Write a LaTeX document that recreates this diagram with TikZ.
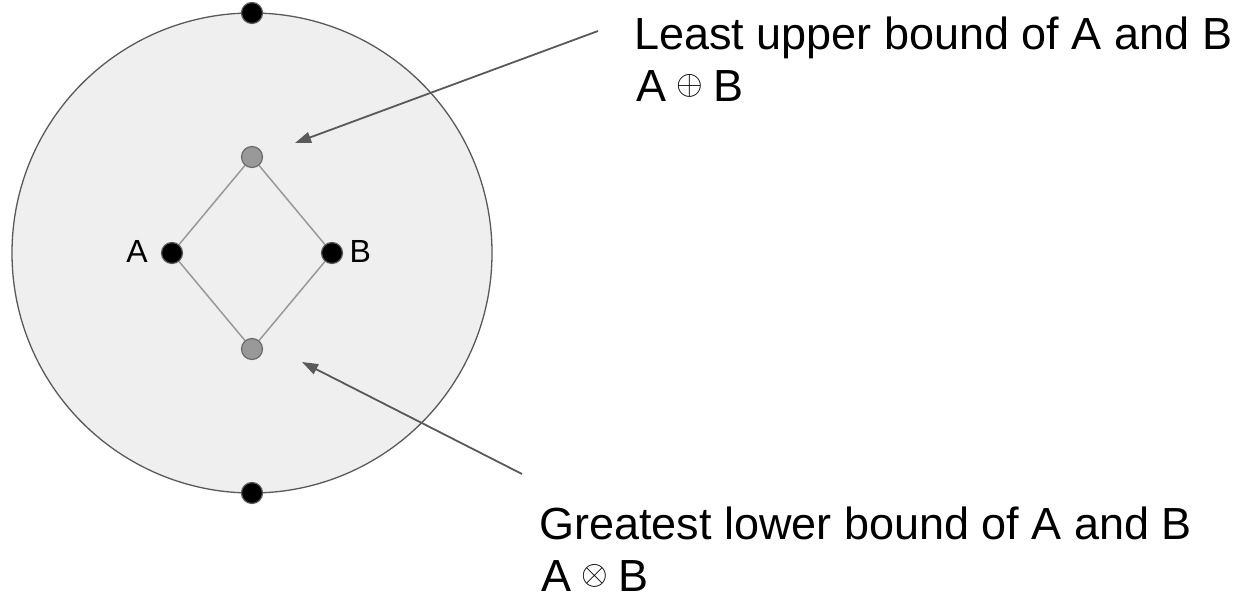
\documentclass[tikz,border=0pt]{standalone}
\usepackage{fontspec}
\setmainfont{Liberation Sans}
\usetikzlibrary{arrows.meta}
\definecolor{edgegray}{HTML}{595959}
\definecolor{fillgray}{HTML}{EFEFEF}
\definecolor{dotgray}{HTML}{999999}
\definecolor{linegray}{HTML}{999999}
\newcommand{\smallop}[1]{\hspace{-2pt}\raisebox{7pt}{\resizebox{!}{20pt}{$#1$}}\hspace{-2pt}}
\tikzset{
  big/.style={circle, draw=edgegray, fill=fillgray, line width=1.3pt, minimum size=480pt, inner sep=0pt},
  blackdot/.style={circle, draw=edgegray, fill=black, line width=1.2pt, minimum size=21pt, inner sep=0pt},
  graydot/.style={circle, draw=edgegray!90, fill=dotgray, line width=1.2pt, minimum size=21pt, inner sep=0pt},
  diamondline/.style={draw=linegray, line width=1.5pt},
  pointer/.style={draw=edgegray, line width=1.8pt, -{Triangle[length=16pt,width=11pt]}},
  label/.style={inner sep=0pt, font=\fontsize{32}{38}\selectfont},
  caption/.style={inner sep=0pt, font=\fontsize{45}{52}\selectfont},
}
\begin{document}
\begin{tikzpicture}[x=1pt,y=-1pt]
\useasboundingbox (0,0) rectangle (1249,601);
\node[big] (circ) at (252,253) {};
\node[blackdot] (top) at (252,13) {};
\node[blackdot] (bot) at (252,493) {};
\node[blackdot] (a) at (172,253) {};
\node[blackdot] (b) at (332,253) {};
\node[graydot] (lub) at (252,157) {};
\node[graydot] (glb) at (252,349) {};
\draw[diamondline] (a) -- (lub) -- (b) -- (glb) -- (a);
\node[label, anchor=base east] (la) at (148,263) {A};
\node[label, anchor=base west] (lb) at (349.5,263) {B};
\node[caption, anchor=base west] (t1) at (634,50) {Least upper bound of A and B};
\node[caption, anchor=base west] (t2) at (636,102) {A \smallop{\oplus} B};
\node[caption, anchor=base west] (t3) at (539,539) {Greatest lower bound of A and B};
\node[caption, anchor=base west] (t4) at (541,591) {A \smallop{\otimes} B};
\coordinate (s1) at (598,31);
\coordinate (e1) at (295,143);
\coordinate (s2) at (522,474);
\coordinate (e2) at (302,362);
\draw[pointer] (s1) -- (e1);
\draw[pointer] (s2) -- (e2);
\end{tikzpicture}
\end{document}
